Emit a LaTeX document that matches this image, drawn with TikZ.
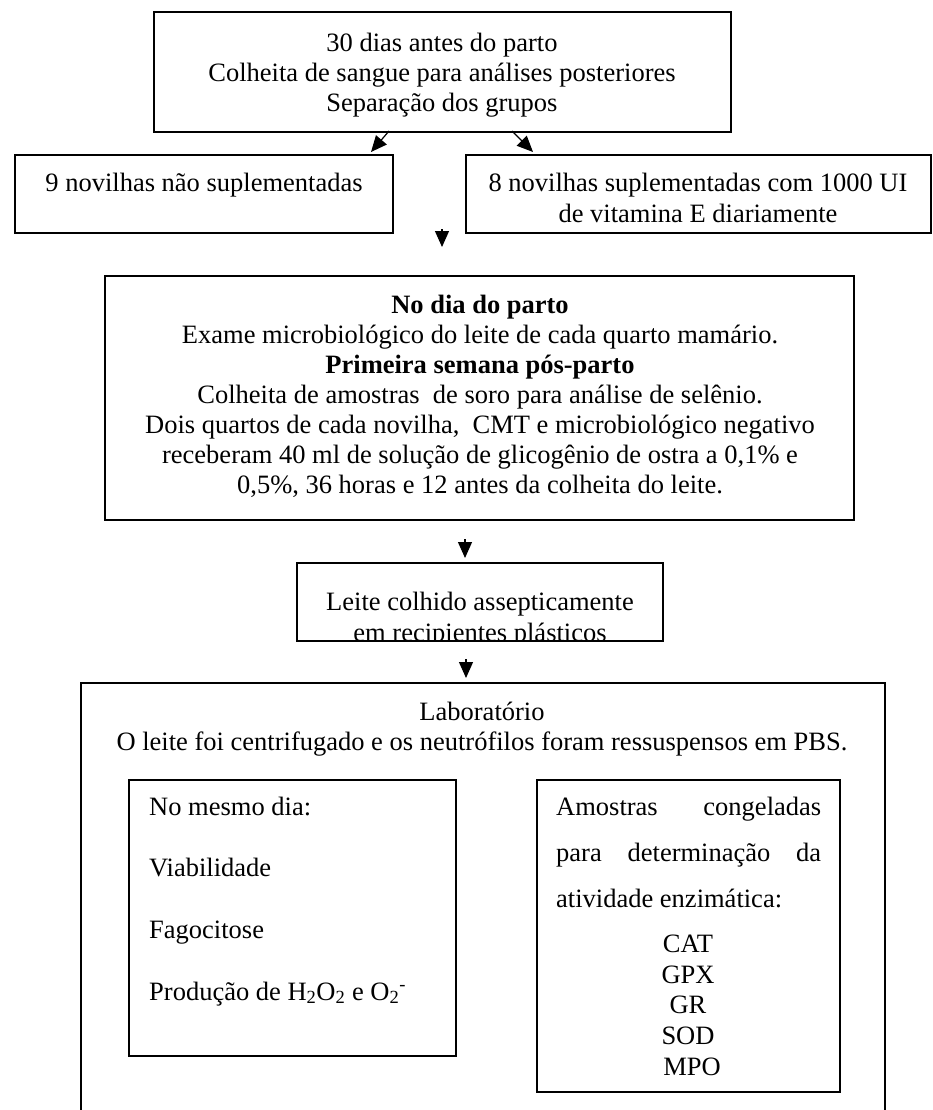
\documentclass[tikz,border=0pt]{standalone}
\usepackage{fontspec}
\setmainfont{Liberation Serif}
\usetikzlibrary{arrows.meta,fit}
\begin{document}
\begin{tikzpicture}[x=1pt,y=-1pt,
  box/.style={draw,line width=1.6pt,inner sep=0pt},
  ln/.style={anchor=base,inner sep=0pt,font={\fontsize{26.5}{30}\selectfont}},
  lnl/.style={ln,anchor=base west},
  arr/.style={line width=1.2pt,-{Triangle[length=16pt,width=14pt]}}]
\useasboundingbox (0,0) rectangle (932,1110);
% boxes
\node[box,fit={(154,12)(731,132)}] (top) {};
\node[box,fit={(15,155)(393,233)}] (nao) {};
\node[box,fit={(466,155)(931,233)}] (sup) {};
\node[box,fit={(105,276)(854,520)}] (dia) {};
\node[box,fit={(297,563)(663,641)}] (leite) {};
\node[box,fit={(81,683)(885,1130)}] (lab) {};
\node[box,fit={(129,780)(456,1056)}] (mesmo) {};
\node[box,fit={(537,780)(840,1092)}] (amo) {};
% top box text
\node[ln] (t1) at (442,52) {30 dias antes do parto};
\node[ln] (t2) at (442,82) {Colheita de sangue para análises posteriores};
\node[ln] (t3) at (442,112) {Separação dos grupos};
% groups
\node[ln] (n1) at (204,192) {9 novilhas não suplementadas};
\node[ln] (s1) at (698,192) {8 novilhas suplementadas com 1000 UI};
\node[ln] (s2) at (698,222) {de vitamina E diariamente};
% day box
\node[ln] (d1) at (480,313) {\textbf{No dia do parto}};
\node[ln] (d2) at (480,343) {Exame microbiológico do leite de cada quarto mamário.};
\node[ln] (d3) at (480,373) {\textbf{Primeira semana pós-parto}};
\node[ln] (d4) at (480,403) {Colheita de amostras\ \ de soro para análise de selênio.};
\node[ln] (d5) at (480,433) {Dois quartos de cada novilha,\ \ CMT e microbiológico negativo};
\node[ln] (d6) at (480,463) {receberam 40 ml de solução de glicogênio de ostra a 0,1\% e};
\node[ln] (d7) at (480,493) {0,5\%, 36 horas e 12 antes da colheita do leite.};
% leite box (text clipped by its frame)
\begin{scope}
\clip (297,563) rectangle (663,640);
\node[ln] (l1) at (480,610) {Leite colhido assepticamente};
\node[ln] (l2) at (480,641) {em recipientes plásticos};
\end{scope}
% laboratory
\node[ln] (b1) at (482,720) {Laboratório};
\node[ln] (b2) at (482,750) {O leite foi centrifugado e os neutrófilos foram ressuspensos em PBS.};
% left inner
\node[lnl] (m1) at (149,815) {No mesmo dia:};
\node[lnl] (m2) at (149,876) {Viabilidade};
\node[lnl] (m3) at (149,938) {Fagocitose};
\node[lnl] (m4) at (149,1000) {Produção de H\textsubscript{2}O\textsubscript{2} e O\textsubscript{2}\textsuperscript{-}};
% right inner
\node[lnl] (r1) at (556,815) {\hbox to 265pt{Amostras\hfill congeladas}};
\node[lnl] (r2) at (556,861) {\hbox to 265pt{para\hfill determinação\hfill da}};
\node[lnl] (r3) at (556,907) {atividade enzimática:};
\node[ln] (e1) at (688,952) {CAT};
\node[ln] (e2) at (688,983) {GPX};
\node[ln] (e3) at (688,1013) {GR};
\node[ln] (e4) at (688,1044) {SOD};
\node[ln] (e5) at (692,1075) {MPO};
% arrows
\coordinate (a1s) at (389,131); \coordinate (a1e) at (371,152);
\coordinate (a2s) at (512,131); \coordinate (a2e) at (533,152);
\coordinate (a3s) at (442,229); \coordinate (a3e) at (442,247);
\coordinate (a4s) at (465,539); \coordinate (a4e) at (465,558);
\coordinate (a5s) at (466,659); \coordinate (a5e) at (466,678);
\draw[arr] (a1s) -- (a1e);
\draw[arr] (a2s) -- (a2e);
\draw[arr] (a3s) -- (a3e);
\draw[arr] (a4s) -- (a4e);
\draw[arr] (a5s) -- (a5e);
\end{tikzpicture}
\end{document}
